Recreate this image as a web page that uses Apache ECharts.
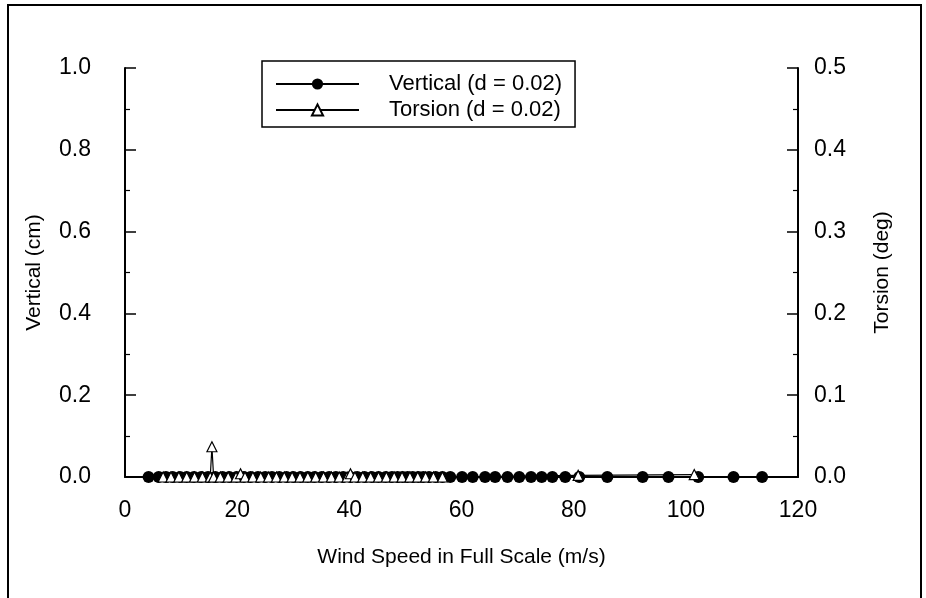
<!DOCTYPE html>
<html>
<head>
<meta charset="utf-8">
<script src="https://cdn.jsdelivr.net/npm/echarts@6/dist/echarts.min.js"></script>
<style>
  html, body { margin: 0; padding: 0; background: #fff; }
  #main { width: 926px; height: 598px; }
</style>
</head>
<body>
<div id="main"></div>
<script>
// wind speed (m/s) and response
var verticalSpeed = [4.2, 6.0, 7.3, 8.5, 9.8, 11.0, 12.3, 13.6, 14.8, 16.1, 17.4, 18.6, 19.9, 21.2,
  22.4, 23.7, 25.0, 26.2, 27.5, 28.8, 30.0, 31.3, 32.6, 33.8, 35.1, 36.4, 37.6, 38.9, 40.2, 41.4,
  42.7, 44.0, 45.2, 46.5, 47.6, 48.6, 49.5, 50.4, 51.3, 52.3, 53.2, 54.2, 55.4, 56.6, 58.0, 60.1,
  62.0, 64.2, 66.0, 68.2, 70.3, 72.4, 74.3, 76.2, 78.5, 81.0, 86.0, 92.3, 96.9, 102.2, 108.5, 113.6]
var verticalValue = [0, 0, 0, 0, 0, 0, 0, 0, 0, 0, 0, 0, 0, 0,
  0, 0, 0, 0, 0, 0, 0, 0, 0, 0, 0, 0, 0, 0, 0, 0,
  0, 0, 0, 0, 0, 0, 0, 0, 0, 0, 0, 0, 0, 0, 0, 0,
  0, 0, 0, 0, 0, 0, 0, 0, 0, 0, 0, 0, 0, 0, 0, 0]

var torsionSpeed = [6.8, 8.2, 9.6, 11.0, 12.4, 13.8, 15.2, 15.5, 15.8, 17.0, 18.4, 19.8, 20.6, 21.4,
  22.8, 24.2, 25.6, 27.0, 28.4, 29.8, 31.2, 32.6, 34.0, 35.4, 36.8, 38.2, 39.6, 40.2, 41.0, 42.4,
  43.8, 45.2, 46.6, 48.0, 49.4, 50.8, 52.2, 53.6, 55.0, 56.6, 80.8, 101.5]
var torsionValue = [0, 0, 0, 0, 0, 0, 0, 0.037, 0, 0, 0, 0, 0.004, 0,
  0, 0, 0, 0, 0, 0, 0, 0, 0, 0, 0, 0, 0, 0.004, 0, 0,
  0, 0, 0, 0, 0, 0, 0, 0, 0, 0, 0.002, 0.003]

var seriesNames = ['Vertical (d = 0.02)', 'Torsion (d = 0.02)']

function pairs (xs, ys) {
  var res = []
  for (var i = 0; i < xs.length; i++) res.push([xs[i], ys[i]])
  return res
}

var font = 'Liberation Sans, Arial, sans-serif'

var option = {
  animation: false,
  backgroundColor: '#fff',
  textStyle: { fontFamily: font, color: '#000' },
  graphic: [{
    type: 'rect',
    shape: { x: 8, y: 5, width: 913, height: 620 },
    style: { fill: 'none', stroke: '#000', lineWidth: 2 },
    silent: true
  }],
  grid: { left: 125, right: 128, top: 68, bottom: 121 },
  legend: {
    data: seriesNames,
    orient: 'vertical',
    left: 262,
    top: 61,
    itemWidth: 83,
    itemHeight: 14,
    itemGap: 4,
    padding: [12, 13, 6, 13],
    borderColor: '#000',
    borderWidth: 1.5,
    textStyle: { fontSize: 22, color: '#000', fontFamily: font, padding: [0, 0, 0, 25] }
  },
  xAxis: {
    type: 'value',
    min: 0, max: 120, interval: 20,
    name: 'Wind Speed in Full Scale (m/s)',
    nameLocation: 'middle',
    nameGap: 70,
    nameTextStyle: { fontSize: 21, color: '#000', fontFamily: font },
    axisLine: { show: true, lineStyle: { color: '#000', width: 2 } },
    axisTick: { show: false },
    axisLabel: { fontSize: 23, color: '#000', margin: 22, fontFamily: font },
    splitLine: { show: false }
  },
  yAxis: [
    {
      type: 'value',
      min: 0, max: 1, interval: 0.2,
      name: 'Vertical (cm)',
      nameLocation: 'middle',
      nameRotate: 90,
      nameGap: 80,
      nameTextStyle: { fontSize: 21, color: '#000', fontFamily: font },
      axisLine: { show: true, lineStyle: { color: '#000', width: 2 } },
      axisTick: { inside: true, length: 11, lineStyle: { color: '#000', width: 1.5 } },
      minorTick: { show: true, splitNumber: 2, length: 5, lineStyle: { color: '#000', width: 1.2 } },
      axisLabel: { fontSize: 23, color: '#000', margin: 34, fontFamily: font,
        formatter: function (v) { return v.toFixed(1) } },
      splitLine: { show: false }
    },
    {
      type: 'value',
      min: 0, max: 0.5, interval: 0.1,
      position: 'right',
      name: 'Torsion (deg)',
      nameLocation: 'middle',
      nameRotate: 90,
      nameGap: 74,
      nameTextStyle: { fontSize: 21, color: '#000', fontFamily: font },
      axisLine: { show: true, lineStyle: { color: '#000', width: 2 } },
      axisTick: { inside: true, length: 11, lineStyle: { color: '#000', width: 1.5 } },
      minorTick: { show: true, splitNumber: 2, length: 5, lineStyle: { color: '#000', width: 1.2 } },
      axisLabel: { fontSize: 23, color: '#000', margin: 16, fontFamily: font,
        formatter: function (v) { return v.toFixed(1) } },
      splitLine: { show: false }
    }
  ],
  series: [
    {
      name: seriesNames[0],
      type: 'line',
      yAxisIndex: 0,
      data: pairs(verticalSpeed, verticalValue),
      symbol: 'circle',
      symbolSize: 12,
      itemStyle: { color: '#000' },
      lineStyle: { color: '#000', width: 2 },
      z: 2
    },
    {
      name: seriesNames[1],
      type: 'line',
      yAxisIndex: 1,
      data: pairs(torsionSpeed, torsionValue),
      symbol: 'triangle',
      symbolSize: 10,
      itemStyle: { color: '#fff', borderColor: '#000', borderWidth: 1.2 },
      lineStyle: { color: '#000', width: 1.2 },
      z: 3
    }
  ]
}

var myChart = echarts.init(document.getElementById('main'))
myChart.setOption(option)
</script>
</body>
</html>
